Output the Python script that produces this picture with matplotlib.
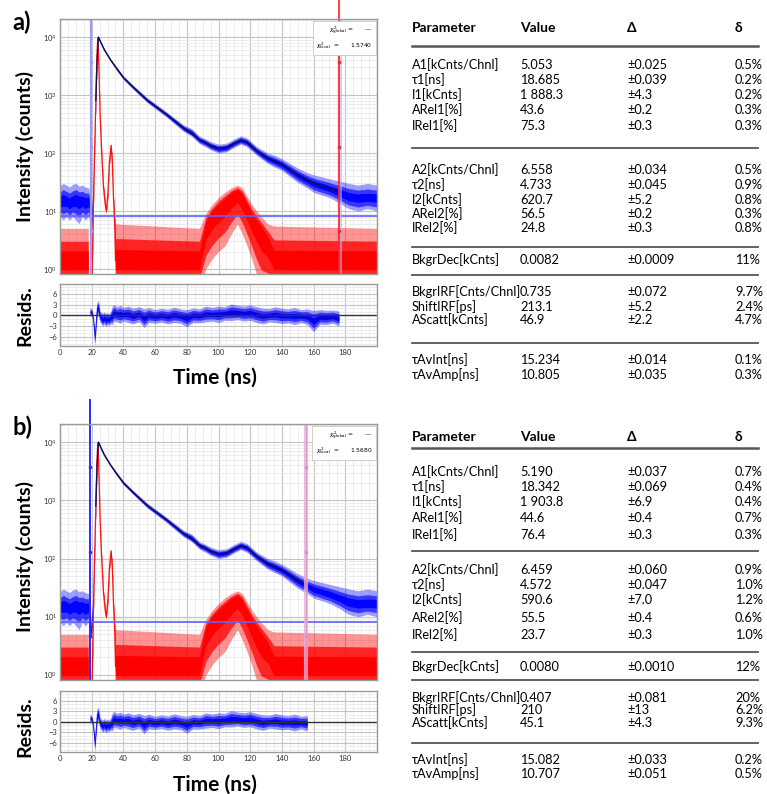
import numpy as np
import matplotlib
matplotlib.use('Agg')
import matplotlib.pyplot as plt
from matplotlib.ticker import MultipleLocator, FixedLocator, NullFormatter, LogFormatterSciNotation

plt.rcParams['font.family'] = ['Lato', 'DejaVu Sans']
plt.rcParams['mathtext.fontset'] = 'dejavusans'

# ---------------- data ----------------
# measured decay (counts), envelope of the noisy trace
blue_t = [0, 2, 4, 6, 8, 10, 12, 14, 16, 18, 19.0, 19.6, 20.3, 21.0, 21.8, 22.6, 23.4, 24.2,
          26, 28, 32, 36, 40, 46, 55, 67, 78, 83, 88, 91, 95, 100, 105, 110, 114, 118, 124,
          131, 135, 140, 150, 156, 160, 170, 176, 182, 188, 194, 200]
blue_mid = [15, 16, 15, 14, 15, 16, 15, 15, 14, 15, 12, 5, 10, 30, 150, 800, 4000, 10000,
            7800, 6000, 4000, 2800, 2000, 1380, 820, 470, 270, 230, 170, 157, 135, 120, 125, 150, 170, 155, 110,
            82, 74, 64, 42, 34, 30, 24.5, 21, 18, 17, 17, 17]
blue_lo = [8, 7, 8, 7, 8, 7, 6, 8, 7, 8, 6, 4, 6, 25, 130, 700, 3500, 9300,
           7400, 5700, 3800, 2600, 1850, 1270, 740, 420, 235, 195, 145, 132, 114, 100, 105, 126, 142, 128, 92,
           66, 58, 50, 31, 25, 21, 17, 14, 11, 10, 11, 10]
blue_hi = [27, 30, 28, 26, 29, 30, 27, 28, 26, 25, 20, 8, 14, 36, 170, 900, 4500, 10500,
           8200, 6300, 4200, 3000, 2150, 1500, 900, 520, 305, 265, 195, 180, 158, 142, 148, 176, 198, 182, 130,
           100, 92, 80, 55, 46, 42, 36, 33, 30, 28, 30, 28]

# fitted curve
fit_t = [22.6, 23.4, 24.2, 26, 28, 32, 36, 40, 46, 55, 67, 78, 88, 95, 100, 105, 110, 114, 118,
         124, 131, 140, 150, 156, 160, 170, 176]
fit_y = [800, 4000, 10000, 7800, 6000, 4000, 2800, 2000, 1380, 820, 470, 270, 170, 135, 121, 126,
         148, 165, 152, 110, 82, 64, 42, 34, 30, 24.5, 21]

# instrument response (IRF), envelope of the noisy trace
red_t = [0, 17.8, 18.0, 20.0, 20.3, 21.0, 21.7, 22.6, 23.2, 23.8, 24.3, 24.7, 25.3, 26.3, 27.4,
         28.5, 29.2, 30.2, 31.2, 32.2, 33.0, 33.8, 34.5, 35.0, 88, 92, 96, 100, 104, 108, 112,
         115, 118, 121, 124, 127, 131, 135, 200]
red_mid = [1.4, 1.4, 0.3, 0.3, 1, 10, 76, 800, 4000, 9500, 5000, 2000, 450, 100, 26,
           13, 10, 20, 70, 135, 70, 15, 6, 1.4, 1.4, 6, 9, 12, 15, 19, 22,
           18, 12, 8, 6, 4.5, 3, 1.4, 1.4]
red_lo = [0.5, 0.5, 0.3, 0.3, 0.5, 8, 65, 700, 3500, 9000, 4500, 1800, 400, 90, 23,
          11.5, 9, 17, 60, 120, 60, 12, 3, 0.5, 0.5, 1.0, 1.5, 2.0, 2.5, 4, 6,
          4, 2.5, 1.5, 0.8, 0.5, 0.5, 0.5, 0.5]
red_hi = [5, 5, 0.3, 0.3, 1.5, 12, 88, 900, 4500, 10000, 5500, 2200, 500, 112, 30,
          15, 11.5, 23, 80, 150, 80, 18, 8, 6, 5, 9, 13, 17, 21, 25, 28,
          25, 18, 13, 10, 8, 6, 5.5, 5]

# weighted residuals envelope
res_t = [19.0, 19.6, 20.2, 20.8, 21.4, 22.0, 22.6, 23.2, 23.8, 24.4, 25.0, 26, 27, 28, 29, 30, 31,
         32, 33, 34, 36, 38, 40, 43, 46, 50, 53, 56, 60, 64, 68, 72, 76, 80, 84, 88, 92, 96, 100,
         104, 108, 112, 116, 120, 124, 128, 132, 136, 140, 144, 148, 152, 156, 160, 164, 168, 172, 176]
res_lo = [-0.5, 0.0, -0.5, -2.5, -6, -8.5, -5, -1.5, 0.5, -0.5, -1.5, -2.5, -3, -2.5, -3.2, -2.6, -2.8,
          -2.4, -2.6, -1.6, -1.8, -2.2, -1.6, -2.0, -2.4, -1.8, -3.4, -2.0, -2.2, -1.9, -2.4, -2.0, -2.2,
          -3.2, -2.0, -2.1, -1.8, -1.6, -2.0, -1.4, -1.5, -1.2, -1.6, -1.4, -2.0, -2.4, -1.8, -2.0, -2.3,
          -2.1, -2.6, -2.0, -2.6, -4.6, -2.5, -2.6, -2.2, -3.0]
res_hi = [2.3, 2.0, 1.5, 0.5, -1.5, -3.5, 1.0, 3.5, 4.1, 3.8, 1.5, 0.8, 0.6, 1.0, 0.5, 0.8, 0.4,
          1.2, 2.6, 3.0, 2.4, 2.8, 2.2, 2.6, 2.0, 2.4, 1.8, 2.2, 1.6, 2.0, 1.7, 2.3, 1.8,
          1.6, 2.1, 1.8, 2.6, 2.2, 2.6, 2.4, 3.2, 2.8, 2.6, 2.9, 2.4, 2.0, 1.9, 2.4, 2.0,
          1.8, 2.2, 1.6, 1.8, 1.4, 1.6, 1.4, 1.5, 1.2]

# panel-specific settings
fit_end = {'a': 176, 'b': 156}
bkg_level = {'a': 8.3, 'b': 8.0}
cursor_left = {'a': 19.6, 'b': 19.0}
cursor_right = {'a': 176.0, 'b': 155.5}
handle_y = [3700, 128, 4.6]
chi_local = {'a': '1.5740', 'b': '1.5680'}

# parameter tables
params = ['A1[kCnts/Chnl]', 'τ1[ns]', 'I1[kCnts]', 'ARel1[%]', 'IRel1[%]',
          'A2[kCnts/Chnl]', 'τ2[ns]', 'I2[kCnts]', 'ARel2[%]', 'IRel2[%]',
          'BkgrDec[kCnts]',
          'BkgrIRF[Cnts/Chnl]', 'ShiftIRF[ps]', 'AScatt[kCnts]',
          'τAvInt[ns]', 'τAvAmp[ns]']
values_a = ['5.053', '18.685', '1 888.3', '43.6', '75.3', '6.558', '4.733', '620.7', '56.5', '24.8',
            '0.0082', '0.735', '213.1', '46.9', '15.234', '10.805']
delta_a = ['±0.025', '±0.039', '±4.3', '±0.2', '±0.3', '±0.034', '±0.045', '±5.2', '±0.2', '±0.3',
           '±0.0009', '±0.072', '±5.2', '±2.2', '±0.014', '±0.035']
rel_a = ['0.5%', '0.2%', '0.2%', '0.3%', '0.3%', '0.5%', '0.9%', '0.8%', '0.3%', '0.8%',
         '11%', '9.7%', '2.4%', '4.7%', '0.1%', '0.3%']
values_b = ['5.190', '18.342', '1 903.8', '44.6', '76.4', '6.459', '4.572', '590.6', '55.5', '23.7',
            '0.0080', '0.407', '210', '45.1', '15.082', '10.707']
delta_b = ['±0.037', '±0.069', '±6.9', '±0.4', '±0.3', '±0.060', '±0.047', '±7.0', '±0.4', '±0.3',
           '±0.0010', '±0.081', '±13', '±4.3', '±0.033', '±0.051']
rel_b = ['0.7%', '0.4%', '0.4%', '0.7%', '0.3%', '0.9%', '1.0%', '1.2%', '0.6%', '1.0%',
         '12%', '20%', '6.2%', '9.3%', '0.2%', '0.5%']
headers = ['Parameter', 'Value', 'Δ', 'δ']

# ---------------- layout ----------------
W, H = 767, 794
fig = plt.figure(figsize=(W / 100, H / 100), dpi=100)


def ax_px(x0, y0, x1, y1):
    return fig.add_axes([x0 / W, 1 - y1 / H, (x1 - x0) / W, (y1 - y0) / H])


def style_grid(ax):
    ax.set_axisbelow(True)
    ax.grid(which='major', color='#c4c4c4', lw=0.8)
    ax.grid(which='minor', color='#e9e9e9', lw=0.6)
    for s in ax.spines.values():
        s.set_color('#9a9a9a')
        s.set_linewidth(1.0)
    ax.tick_params(which='both', length=0, labelsize=5.5, colors='#333333', pad=2)


def layered_log(ax, t, lo, mid, hi, color, alphas):
    # outer envelope (sparse spikes) -> dense core
    ax.fill_between(t, lo, hi, color=color, alpha=alphas[0], lw=0)
    ax.fill_between(t, mid / (mid / lo) ** 0.7, mid * (hi / mid) ** 0.6, color=color, alpha=alphas[1], lw=0)
    ax.fill_between(t, mid / (mid / lo) ** 0.35, mid * (hi / mid) ** 0.3, color=color, alpha=alphas[2], lw=0)


def draw_main(ax, key, top_px):
    bt = np.array(blue_t); bm = np.array(blue_mid); bl = np.array(blue_lo); bh = np.array(blue_hi)
    rt = np.array(red_t); rm = np.array(red_mid); rl = np.array(red_lo); rh = np.array(red_hi)
    # IRF
    layered_log(ax, rt, rl, rm, rh, '#ff0000', (0.42, 0.75, 1.0))
    sel = (rt >= 20) & (rt <= 35)
    ax.plot(rt[sel], rm[sel], color='#ff0000', lw=0.9, alpha=0.9)
    # decay
    layered_log(ax, bt, bl, bm, bh, '#0000ff', (0.38, 0.65, 0.95))
    # background level
    ax.axhline(bkg_level[key], color='#6060ff', lw=1.2)
    # fit
    ft = np.array(fit_t); fy = np.array(fit_y)
    s2 = ft <= fit_end[key]
    ax.plot(ft[s2], fy[s2], color='#101050', lw=1.0)
    # cursors (extend above the frame like in the original software)
    if key == 'a':
        ax.axvline(cursor_left[key], color='#9b9bff', lw=1.6)
        ax.axvline(cursor_right[key] + 0.6, color='#b0b0ff', lw=2.2, alpha=0.6)
        ax.axvline(cursor_right[key], ymax=1 + top_px / 255, color='#ff2020', lw=1.2, clip_on=False)
        ax.plot([cursor_left[key]] * 3, handle_y, 'o', ms=1.6, color='#9b9bff')
        ax.plot([cursor_right[key]] * 3, handle_y, 'o', ms=1.6, color='#dd3030')
    else:
        ax.axvline(cursor_left[key], ymax=1 + top_px / 256, color='#2a2aff', lw=1.4, clip_on=False)
        ax.axvline(cursor_right[key], color='#d8b0f0', lw=3.0, alpha=0.8)
        ax.axvline(cursor_right[key], color='#ff8080', lw=0.8, alpha=0.6)
        ax.plot([cursor_left[key]] * 3, handle_y, 'o', ms=1.6, color='#2a2aff')
        ax.plot([cursor_right[key]] * 3, handle_y, 'o', ms=1.6, color='#e090c0')
    ax.set_yscale('log')
    ax.set_xlim(0, 200)
    ax.set_ylim(0.82, 2.05e4)
    ax.xaxis.set_major_locator(MultipleLocator(20))
    ax.xaxis.set_minor_locator(MultipleLocator(5))
    ax.xaxis.set_major_formatter(NullFormatter())
    ax.yaxis.set_major_locator(FixedLocator([1, 10, 100, 1000, 10000]))
    ax.yaxis.set_major_formatter(LogFormatterSciNotation())
    ax.yaxis.set_minor_locator(FixedLocator([m * 10 ** e for e in range(0, 5) for m in range(2, 10)]))
    ax.yaxis.set_minor_formatter(NullFormatter())
    style_grid(ax)
    # chi-square box
    ax.text(0.985, 0.975,
            '$\\chi^2_{\\rm global}$ =      ---\n$\\chi^2_{\\rm local}$  =      ' + chi_local[key],
            transform=ax.transAxes, ha='right', va='top', fontsize=4.3, family='DejaVu Sans',
            linespacing=1.45, zorder=10,
            bbox=dict(boxstyle='square,pad=0.55', fc='white', ec='#c8c8c8', lw=0.6))


def draw_res(ax, key):
    t = np.array(res_t); lo = np.array(res_lo); hi = np.array(res_hi)
    s = t <= fit_end[key]
    t, lo, hi = t[s], lo[s], hi[s]
    mid = (lo + hi) / 2
    half = (hi - lo) / 2
    ax.fill_between(t, lo, hi, color='#0000ff', alpha=0.4, lw=0)
    ax.fill_between(t, mid - half * 0.65, mid + half * 0.65, color='#0000ff', alpha=0.65, lw=0)
    ax.fill_between(t, mid - half * 0.3, mid + half * 0.3, color='#0000ee', alpha=0.95, lw=0)
    ax.axhline(0, color='#333333', lw=1.0)
    ax.set_xlim(0, 200)
    ax.set_ylim(-8.6, 8.8)
    ax.xaxis.set_major_locator(FixedLocator(list(range(0, 181, 20))))
    ax.xaxis.set_minor_locator(MultipleLocator(5))
    ax.yaxis.set_major_locator(FixedLocator([-6, -3, 0, 3, 6]))
    ax.yaxis.set_minor_locator(MultipleLocator(1))
    style_grid(ax)


# panel a
axa = ax_px(60, 19, 377, 274)
draw_main(axa, 'a', 19)
ra = ax_px(60, 284, 377, 346)
draw_res(ra, 'a')
# panel b
axb = ax_px(60, 424, 377, 680)
draw_main(axb, 'b', 24)
rb = ax_px(60, 691, 377, 752)
draw_res(rb, 'b')


def ftext(x, y, s, **kw):
    fig.text(x / W, 1 - y / H, s, **kw)


for key, y0 in (('a', 0), ('b', 405)):
    ftext(12, 22 + y0, key + ')', fontsize=17, fontweight='bold', va='center', ha='left')
    ftext(25, 147 + y0 + (5 if key == 'b' else 0), 'Intensity (counts)', fontsize=14, fontweight='bold',
          rotation=90, va='center', ha='center')
    ftext(25, 316 + y0 + (6 if key == 'b' else 0), 'Resids.', fontsize=14, fontweight='bold',
          rotation=90, va='center', ha='center')
ftext(215, 378, 'Time (ns)', fontsize=15, fontweight='bold', va='center', ha='center')
ftext(215, 785, 'Time (ns)', fontsize=15, fontweight='bold', va='center', ha='center')

# ---------------- tables ----------------
col_x = [412, 520, 627, 735]
line_x0, line_x1 = 412, 758
layout_a = dict(header=28, hline=46,
                rows=[65, 80, 95, 110, 126, 170, 185, 200, 214, 228, 260, 292, 307, 320, 360, 375],
                lines=[148, 247, 275, 343])
layout_b = dict(header=437, hline=448,
                rows=[472, 487, 502, 518, 535, 570, 585, 600, 618, 635, 667, 698, 710, 723, 760, 774],
                lines=[551, 652, 680, 743])


def draw_table(lay, values, deltas, rels):
    for x, h in zip(col_x, headers):
        ftext(x, lay['header'], h, fontsize=10, fontweight='bold', va='center', ha='left')
    fig.add_artist(plt.Line2D([line_x0 / W, line_x1 / W], [1 - lay['hline'] / H] * 2,
                              color='#555555', lw=1.8))
    for yl in lay['lines']:
        fig.add_artist(plt.Line2D([line_x0 / W, line_x1 / W], [1 - yl / H] * 2,
                                  color='#555555', lw=1.3))
    for y, p, v, d, r in zip(lay['rows'], params, values, deltas, rels):
        ftext(col_x[0], y, p, fontsize=9.2, va='center', ha='left')
        ftext(col_x[1], y, v, fontsize=9.2, va='center', ha='left')
        ftext(col_x[2], y, d, fontsize=9.2, va='center', ha='left')
        ftext(col_x[3], y, r, fontsize=9.2, va='center', ha='left')


draw_table(layout_a, values_a, delta_a, rel_a)
draw_table(layout_b, values_b, delta_b, rel_b)

fig.savefig('out.png', dpi=100, facecolor='white')
